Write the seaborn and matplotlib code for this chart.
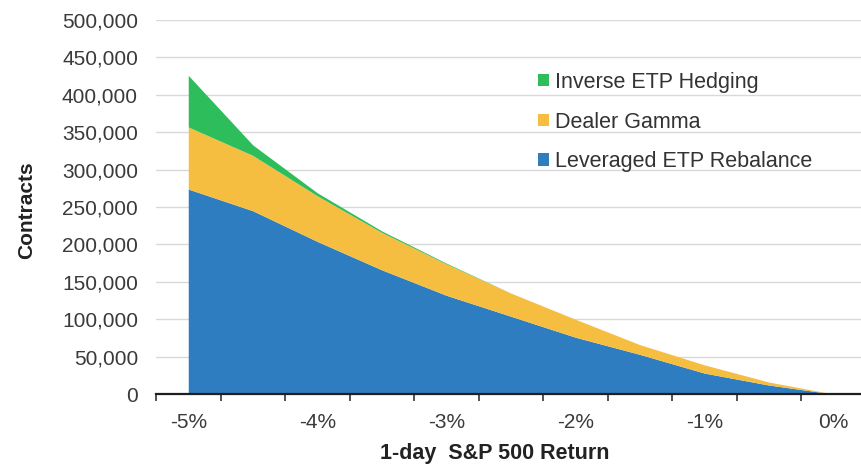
import matplotlib
matplotlib.use("Agg")
import matplotlib.pyplot as plt
from matplotlib.patches import Patch
from matplotlib.ticker import FuncFormatter, FixedLocator
import seaborn as sns

# 1-day S&P 500 return (%) at each category
returns = [-5.0, -4.5, -4.0, -3.5, -3.0, -2.5, -2.0, -1.5, -1.0, -0.5, 0.0]

# Contracts by source
leveraged_etp = [274000, 245000, 204000, 166000, 132000, 104000, 76000, 53000, 28000, 12000, 0]
dealer_gamma = [83000, 74000, 61000, 50000, 42000, 31000, 24000, 13000, 11000, 4000, 0]
inverse_etp = [69000, 14000, 4000, 2000, 1000, 0, 0, 0, 0, 0, 0]

series_names = ["Leveraged ETP Rebalance", "Dealer Gamma", "Inverse ETP Hedging"]
series_colors = ["#2E7DC1", "#F5BE41", "#2DBD5A"]

x_tick_values = [-5, -4, -3, -2, -1, 0]
x_tick_labels = ["-5%", "-4%", "-3%", "-2%", "-1%", "0%"]
y_tick_values = list(range(0, 500001, 50000))

sns.set_theme(style="white")
plt.rcParams["font.family"] = ["Liberation Sans", "DejaVu Sans"]

fig = plt.figure(figsize=(8.61, 4.67), dpi=100)
ax = fig.add_axes([156 / 861, 73 / 467, 709.5 / 861, 374 / 467])

ax.stackplot(returns, leveraged_etp, dealer_gamma, inverse_etp,
             colors=series_colors, linewidth=0, zorder=2)

ax.set_xlim(-5.25, 0.25)
ax.set_ylim(0, 500000)

# horizontal gridlines
ax.yaxis.set_major_locator(FixedLocator(y_tick_values))
ax.grid(axis="y", color="#D9D9D9", linewidth=1.0, zorder=0)
ax.grid(axis="x", visible=False)
ax.set_axisbelow(True)

ax.yaxis.set_major_formatter(FuncFormatter(lambda v, p: f"{v:,.0f}"))
ax.tick_params(axis="y", length=0, pad=13, labelsize=15, labelcolor="#3A3A3A")

# category labels centred, tick marks at category boundaries
ax.set_xticks(x_tick_values)
ax.set_xticklabels(x_tick_labels)
ax.set_xticks([-5.25 + 0.5 * k for k in range(12)], minor=True)
ax.tick_params(axis="x", which="major", length=0, pad=14, labelsize=15, labelcolor="#3A3A3A")
ax.tick_params(axis="x", which="minor", length=5, width=1.2, color="#333333",
               direction="out", bottom=True)

sns.despine(ax=ax, left=True, top=True, right=True)
ax.spines["bottom"].set_color("#1E1E1E")
ax.spines["bottom"].set_linewidth(1.6)
ax.spines["bottom"].set_zorder(3)

fig.text(27 / 861, 1 - 210 / 467, "Contracts", rotation=90, ha="center", va="center",
         fontsize=15, fontweight="bold", color="#222222")
fig.text(495 / 861, 1 - 453 / 467, "1-day  S&P 500 Return", ha="center", va="center",
         fontsize=15.5, fontweight="bold", color="#222222")

handles = [Patch(facecolor=series_colors[i], edgecolor="none", label=series_names[i])
           for i in (2, 1, 0)]
ax.legend(handles=handles, loc="upper left", bbox_to_anchor=(538 / 861, 1 - 72 / 467),
          bbox_transform=fig.transFigure, frameon=False, fontsize=15.5,
          handlelength=0.5, handleheight=0.5, handletextpad=0.3, labelspacing=0.86,
          labelcolor="#333333", borderaxespad=0, borderpad=0)

fig.savefig("out.png", dpi=100, facecolor="white")
